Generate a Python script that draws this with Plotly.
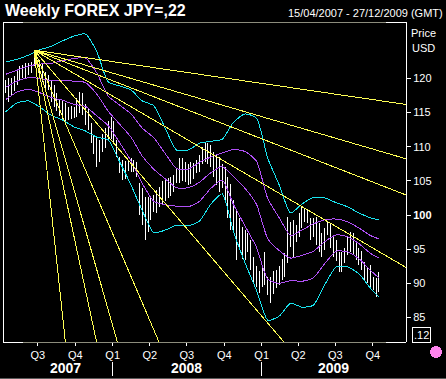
import plotly.graph_objects as go
import pandas as pd

# ---------------- data ----------------
title_text = "Weekly FOREX JPY=,22"
period_text = "15/04/2007 - 27/12/2009 (GMT)"

bar_dates = pd.date_range("2007-04-13", periods=132, freq="7D")
highs = [119.8,120.1,120.0,120.4,121.3,121.8,122.0,122.3,122.3,122.4,
         123.6,124.2,122.7,122.3,120.9,120.5,119.8,119.0,117.8,117.0,
         116.8,116.4,115.8,116.0,115.8,117.1,118.0,117.8,116.2,115.5,
         113.5,111.7,111.3,111.0,111.8,112.8,113.8,114.3,113.8,111.0,
         108.5,108.0,107.9,108.1,108.3,108.0,107.8,104.7,104.0,102.6,
         102.6,102.8,103.0,103.7,104.1,105.0,105.4,105.4,105.6,105.8,
         106.9,108.3,108.4,107.8,107.5,107.8,107.6,108.0,108.8,110.0,
         110.7,110.5,110.3,109.3,108.8,108.5,107.5,107.0,105.5,104.5,
         102.2,100.7,99.5,98.2,97.8,97.4,96.3,93.9,92.5,91.8,
         92.4,94.6,90.9,90.9,91.8,92.0,92.5,93.5,94.4,99.7,
         99.0,99.3,98.5,100.3,101.2,101.0,100.7,99.6,99.6,99.7,
         98.9,97.4,98.1,99.0,98.8,96.8,96.3,94.6,94.6,95.2,
         96.9,97.5,97.3,96.0,95.2,94.7,93.1,92.3,92.7,90.9,
         90.8,91.7]
lows = [117.9,116.5,117.5,118.2,119.0,119.7,120.1,120.1,120.5,120.8,
        121.8,122.0,120.2,119.5,118.3,118.3,116.5,115.8,115.2,114.5,
        113.9,113.5,113.9,114.0,114.2,114.3,115.0,114.6,113.2,112.5,
        110.5,109.0,107.0,107.7,109.3,109.8,110.8,111.2,110.6,108.5,
        106.1,105.2,105.3,106.4,106.3,106.3,105.6,100.0,98.5,96.3,
        97.5,99.2,100.5,100.3,101.2,101.6,102.0,102.5,102.8,103.4,
        104.7,104.7,105.0,104.8,104.4,104.6,105.3,106.1,106.3,107.5,
        107.8,107.5,107.0,105.6,104.4,103.4,104.0,102.2,99.5,97.8,
        97.4,93.4,95.0,93.6,93.4,94.6,92.0,90.0,89.5,88.6,
        89.5,89.8,88.3,87.1,88.5,89.3,89.8,90.5,90.9,93.0,
        95.3,93.9,96.0,96.8,98.1,99.0,98.8,96.3,96.8,95.6,
        94.6,93.9,94.9,97.1,95.2,93.9,93.3,91.7,91.7,93.0,
        94.2,94.6,94.1,93.4,92.7,92.0,90.5,90.1,89.5,89.0,
        88.0,88.7]
last_close = 91.5

band_idx = list(range(0, 129, 4)) + [131]
cyan_upper = [122.4,122.8,123.4,124.2,124.7,125.5,126.2,126.5,123.9,119.5,
              118.9,118.3,116.7,116.0,112.7,109.5,109.5,110.5,110.8,111.1,
              113.6,114.8,114.2,108.3,104.4,100.3,101.6,102.6,102.5,101.8,
              101.2,100.3,99.6,99.3]
purple_upper = [120.6,121.2,121.8,122.1,122.2,122.6,122.9,123.0,120.8,117.4,
                116.1,114.8,112.7,111.3,109.0,106.8,106.7,107.7,108.5,109.1,
                109.6,109.3,107.9,102.4,99.6,97.0,97.8,98.7,99.3,99.4,
                99.0,98.1,97.0,96.5]
purple_mid = [118.7,119.6,120.1,120.0,119.7,119.7,119.6,119.4,117.7,115.2,
              113.3,111.4,108.6,106.7,105.3,104.0,104.0,104.8,106.2,107.1,
              105.6,103.9,101.6,96.5,94.8,93.7,94.1,94.7,96.1,97.1,
              96.8,95.8,94.4,93.7]
purple_lower = [116.9,118.0,118.4,117.9,117.2,116.8,116.2,115.9,114.5,113.1,
                110.6,107.9,104.6,102.0,101.5,101.3,101.2,102.0,103.9,105.1,
                101.5,98.4,95.3,90.6,90.0,90.4,90.3,90.8,92.9,94.7,
                94.6,93.6,91.9,90.8]
cyan_lower = [115.1,116.4,116.7,115.8,114.6,113.9,112.9,112.3,111.4,111.0,
              107.8,104.4,100.6,97.4,97.8,98.5,98.4,99.1,101.6,103.1,
              97.5,93.0,89.0,84.6,85.2,87.1,86.5,86.8,89.8,92.4,
              92.4,91.4,89.3,88.0]

fan_origin_date = "2007-06-22"
fan_origin_price = 124.14
fan_unit = 0.4875          # price units per week for the 1x1 line
fan_ratios = [8, 4, 3, 2, 1, 1/2, 1/3, 1/4, 1/8]
fan_end_date = "2011-01-01"

quarter_dates = ["2007-07-01","2007-10-01","2008-01-01","2008-04-01","2008-07-01",
                 "2008-10-01","2009-01-01","2009-04-01","2009-07-01","2009-10-01"]
quarter_labels = ["Q3","Q4","Q1","Q2","Q3","Q4","Q1","Q2","Q3","Q4"]
year_labels = ["2007", "2008", "2009"]
year_label_dates = ["2007-09-08", "2008-07-01", "2009-06-27"]
year_breaks = ["2008-01-01", "2009-01-01"]
price_ticks = [85, 90, 95, 100, 105, 110, 115, 120]

# ---------------- styling ----------------
CYAN = "#19e3ee"
PURPLE = "#b050f5"
YELLOW = "#ffff55"
FONT = "Arial, Liberation Sans, sans-serif"
GRAYLINE = "#8c8c7c"

fig = go.Figure()

# price bars
bx, by = [], []
for d, h, l in zip(bar_dates, highs, lows):
    bx += [d, d, None]
    by += [l, h, None]
fig.add_trace(go.Scatter(x=bx, y=by, mode="lines",
                         line=dict(color="white", width=1), hoverinfo="skip"))

band_dates = [bar_dates[i] for i in band_idx]
for vals, col in [(cyan_upper, CYAN), (cyan_lower, CYAN),
                  (purple_upper, PURPLE), (purple_mid, PURPLE), (purple_lower, PURPLE)]:
    fig.add_trace(go.Scatter(x=band_dates, y=vals, mode="lines",
                             line=dict(color=col, width=1, shape="spline", smoothing=0.6),
                             hoverinfo="skip"))

# Gann fan
o_date = pd.Timestamp(fan_origin_date)
e_date = pd.Timestamp(fan_end_date)
weeks = (e_date - o_date).days / 7.0
for r in fan_ratios:
    fig.add_trace(go.Scatter(x=[o_date, e_date],
                             y=[fan_origin_price, fan_origin_price - fan_unit * r * weeks],
                             mode="lines", line=dict(color=YELLOW, width=1),
                             hoverinfo="skip"))

# last-value markers on the price axis
marker_x = pd.Timestamp("2010-01-02")
last_vals = [cyan_upper[-1], purple_upper[-1], purple_mid[-1], last_close,
             purple_lower[-1], cyan_lower[-1]]
last_cols = [CYAN, PURPLE, PURPLE, "white", PURPLE, CYAN]
fig.add_trace(go.Scatter(x=[marker_x] * len(last_vals), y=last_vals, mode="markers",
                         marker=dict(symbol="diamond", size=9, color=last_cols,
                                     line=dict(width=0)),
                         cliponaxis=False, hoverinfo="skip"))

L, R, T, B = 3, 40, 22, 37
W, H = 446, 379
pw, ph = W - L - R, H - T - B


def px(xp):
    return (xp - L) / pw


def py(yp):
    return (H - B - yp) / ph


fig.update_layout(
    width=W, height=H,
    margin=dict(l=L, r=R, t=T, b=B, pad=0),
    paper_bgcolor="black", plot_bgcolor="black",
    showlegend=False,
    font=dict(family=FONT, color="white", size=11),
    xaxis=dict(type="date", range=["2007-04-06 12:00", "2009-12-21 12:00"],
               showgrid=False, zeroline=False, showline=False,
               tickvals=quarter_dates, ticktext=quarter_labels,
               ticks="outside", ticklen=3, tickcolor="white", tickwidth=1,
               tickfont=dict(size=11, color="white", family=FONT),
               fixedrange=True),
    yaxis=dict(side="right", range=[81.41, 128.26],
               showgrid=False, zeroline=False,
               showline=True, linecolor="white", linewidth=1,
               tickvals=price_ticks,
               ticktext=[("<b>%d</b>" % v) if v == 100 else str(v) for v in price_ticks],
               ticks="outside", ticklen=4, tickcolor="white", tickwidth=1,
               tickfont=dict(size=11, color="white", family=FONT),
               fixedrange=True),
)

shapes = []
# frame: left white, top/bottom gray with white corners
shapes.append(dict(type="line", xref="paper", yref="paper", x0=0, x1=0, y0=0, y1=1,
                   line=dict(color="white", width=1)))
for yv in (0, 1):
    shapes.append(dict(type="line", xref="paper", yref="paper", x0=0, x1=px(23), y0=yv, y1=yv,
                       line=dict(color="white", width=1)))
    shapes.append(dict(type="line", xref="paper", yref="paper", x0=px(23), x1=px(386), y0=yv, y1=yv,
                       line=dict(color=GRAYLINE, width=1)))
    shapes.append(dict(type="line", xref="paper", yref="paper", x0=px(386), x1=1, y0=yv, y1=yv,
                       line=dict(color="white", width=1)))
# year separators
for d in year_breaks:
    shapes.append(dict(type="line", xref="x", yref="paper", x0=d, x1=d,
                       y0=py(362), y1=py(376), line=dict(color="white", width=1)))
# bottom strip line
shapes.append(dict(type="line", xref="paper", yref="paper", x0=px(0), x1=px(446),
                   y0=py(378), y1=py(378), line=dict(color="#5a5a5a", width=1)))
# pink dot
shapes.append(dict(type="circle", xref="paper", yref="paper",
                   x0=px(430), x1=px(442), y0=py(358), y1=py(346),
                   fillcolor="#ff84ee", line=dict(width=0)))
fig.update_layout(shapes=shapes)

ann = []
ann.append(dict(text="<b>" + title_text + "</b>", xref="paper", yref="paper",
                x=px(3), y=py(11), xanchor="left", yanchor="middle", showarrow=False,
                font=dict(size=16, color="white", family=FONT)))
ann.append(dict(text=period_text, xref="paper", yref="paper",
                x=px(445), y=py(13), xanchor="right", yanchor="middle", showarrow=False,
                font=dict(size=11, color="white", family=FONT)))
ann.append(dict(text="Price", xref="paper", yref="paper", x=px(409), y=py(33),
                xanchor="left", yanchor="middle", showarrow=False,
                font=dict(size=11, color="white", family=FONT)))
ann.append(dict(text="USD", xref="paper", yref="paper", x=px(410), y=py(48),
                xanchor="left", yanchor="middle", showarrow=False,
                font=dict(size=11, color="white", family=FONT)))
ann.append(dict(text=".12", xref="paper", yref="paper", x=px(421), y=py(335),
                xanchor="center", yanchor="middle", showarrow=False,
                bordercolor="white", borderwidth=1, borderpad=1,
                font=dict(size=11, color="white", family=FONT)))
for lab, d in zip(year_labels, year_label_dates):
    ann.append(dict(text="<b>" + lab + "</b>", xref="x", yref="paper", x=d, y=py(368),
                    xanchor="center", yanchor="middle", showarrow=False,
                    font=dict(size=14, color="white", family=FONT)))
fig.update_layout(annotations=ann)

fig.write_html("out.html", config={"displayModeBar": False},
               post_script="document.body.style.margin='0';document.body.style.padding='0';"
                           "document.body.style.background='black';"
                           "document.body.style.overflow='hidden';"
                           "document.querySelectorAll('.scatterlayer path, .layer-above path')"
                           ".forEach(function(p){p.style.shapeRendering='crispEdges';});")
